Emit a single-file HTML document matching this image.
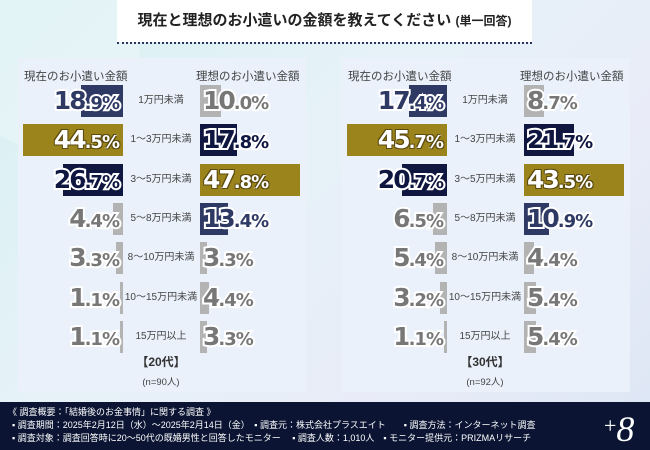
<!DOCTYPE html>
<html><head><meta charset="utf-8">
<style>
body{margin:0;width:650px;height:450px;overflow:hidden;font-family:"Liberation Sans","Noto Sans CJK JP",sans-serif;}
#root{position:relative;width:650px;height:450px;background:linear-gradient(135deg,#d8f0f2 0%,#e6f2f8 40%,#e9ecf8 70%,#dce6f4 100%);overflow:hidden}
.abs{position:absolute}
.title{left:117px;top:0;width:415px;height:42px;background:#fff;font-size:15px;font-weight:bold;color:#222;text-align:center;line-height:42px}
.title small{font-size:12px}
.dots{left:117px;top:42px;width:415px;border-top:2px dotted #2a3560}
.panel{top:58px;width:288px;height:334px;background:#eaf1fb}
.hdr{font-size:11.5px;color:#444;top:10px}
.bar{height:32px}
.val{font-family:"DejaVu Sans","Liberation Sans",sans-serif;font-weight:bold;font-size:25px;letter-spacing:-2px;paint-order:stroke fill;-webkit-text-stroke:4px #fff;line-height:32px;white-space:nowrap}
.val span{font-size:18px;letter-spacing:-1px}
.cat{font-size:10px;color:#444;line-height:32px;text-align:center;width:80px}
.age{font-size:12px;font-weight:bold;color:#333;text-align:center;width:80px}
.n{font-size:9.5px;color:#444;text-align:center;width:80px}
.footer{left:0;top:402px;width:650px;height:48px;background:#0b1533;color:#fff;font-size:9px;line-height:13px}
</style></head><body>
<div id="root">
<div class="abs" style="left:-40px;top:-30px;width:180px;height:180px;border-radius:50%;background:rgba(255,255,255,0.25)"></div>
<div class="abs title">現在と理想のお小遣いの金額を教えてください <small>(単一回答)</small></div>
<div class="abs dots"></div>
<div id="charts"></div>
<div class="abs footer">
<div class="abs" style="left:8px;top:4px">《 調査概要：「結婚後のお金事情」に関する調査 》</div>
<div class="abs" style="left:12px;top:17px">▪ 調査期間：2025年2月12日（水）～2025年2月14日（金）　▪ 調査元：株式会社プラスエイト　　▪ 調査方法：インターネット調査</div>
<div class="abs" style="left:12px;top:30px">▪ 調査対象：調査回答時に20～50代の既婚男性と回答したモニター　 ▪ 調査人数：1,010人　▪ モニター提供元：PRIZMAリサーチ</div>
<div class="abs" style="left:604px;top:4px;font-family:'Liberation Serif',serif;font-style:italic;font-size:36px;line-height:40px"><span style="font-size:22px;font-style:normal;vertical-align:8px">+</span>8</div>
</div>
</div>
<script>
const categories=["1万円未満","1～3万円未満","3～5万円未満","5～8万円未満","8～10万円未満","10～15万円未満","15万円以上"];
const current20=[18.9,44.5,26.7,4.4,3.3,1.1,1.1];
const ideal20=[10.0,17.8,47.8,13.4,3.3,4.4,3.3];
const current30=[17.4,45.7,20.7,6.5,5.4,3.2,1.1];
const ideal30=[8.7,21.7,43.5,10.9,4.4,5.4,5.4];
const groups=["【20代】","【30代】"];
const groupN=["(n=90人)","(n=92人)"];

const root=document.getElementById('charts');
function mk(cls,style,name,parent){const e=document.createElement('div');e.className='abs '+cls;e.style.cssText=style;


(parent||root).appendChild(e);return e;}
function colorFor(v,arr){const s=[...arr].sort((a,b)=>b-a);const r=s.indexOf(v);
return r===0?'#9c841c':r===1?'#0f1640':r===2?'#2e3a64':'#b3b3b3';}
function txtColor(c){return c==='#9c841c'?'#fff':c==='#b3b3b3'?'#777':c;}
function fmt(v){const s=v.toFixed(1);const p=s.split('.');return p[0]+'<span>.'+p[1]+'%</span>';}
const rowY=i=>27+i*39.3;
function panel(px,cur,ide,g){
  const p=mk('panel','left:'+px+'px','panel-'+g);
  mk('hdr','left:6px','current-header',p).textContent='現在のお小遣い金額';
  mk('hdr','left:178px','ideal-header',p).textContent='理想のお小遣い金額';
  const cmax=Math.max(...cur),imax=Math.max(...ide);
  const W=100;
  categories.forEach((c,i)=>{
    const y=rowY(i);
    let w=Math.max(3,cur[i]/cmax*W),col=colorFor(cur[i],cur);
    mk('bar','left:'+(105-w)+'px;top:'+y+'px;width:'+w+'px;background:'+col,'current-bar-'+i,p);
    const t=mk('val','right:'+(288-101)+'px;top:'+y+'px;color:'+txtColor(col)+(col==='#9c841c'?';-webkit-text-stroke:4px #5a4a10':''),'current-value-'+i,p);t.innerHTML=fmt(cur[i]);
    if(col==='#9c841c'){t.style.webkitTextStroke='';t.style.textShadow='0 0 0 #fff';t.style.color='#fff';t.style.webkitTextStroke='1.5px #fff';t.style.textShadow='1px 1px 0 #5a4a10,-1px -1px 0 #5a4a10,1px -1px 0 #5a4a10,-1px 1px 0 #5a4a10';}
    mk('cat','left:103px;top:'+y+'px','category-'+i,p).textContent=c;
    w=Math.max(3,ide[i]/imax*W);col=colorFor(ide[i],ide);
    mk('bar','left:182px;top:'+y+'px;width:'+w+'px;background:'+col,'ideal-bar-'+i,p);
    const t2=mk('val','left:185px;top:'+y+'px;color:'+txtColor(col),'ideal-value-'+i,p);t2.innerHTML=fmt(ide[i]);
    if(col==='#9c841c'){t2.style.webkitTextStroke='1.5px #fff';t2.style.textShadow='1px 1px 0 #5a4a10,-1px -1px 0 #5a4a10,1px -1px 0 #5a4a10,-1px 1px 0 #5a4a10';}
  });
  mk('age','left:103px;top:295px','age-group-label',p).textContent=groups[g];
  mk('n','left:103px;top:316px','sample-size',p).textContent=groupN[g];
}
panel(18,current20,ideal20,0);
panel(342,current30,ideal30,1);
</script>
</body></html>
